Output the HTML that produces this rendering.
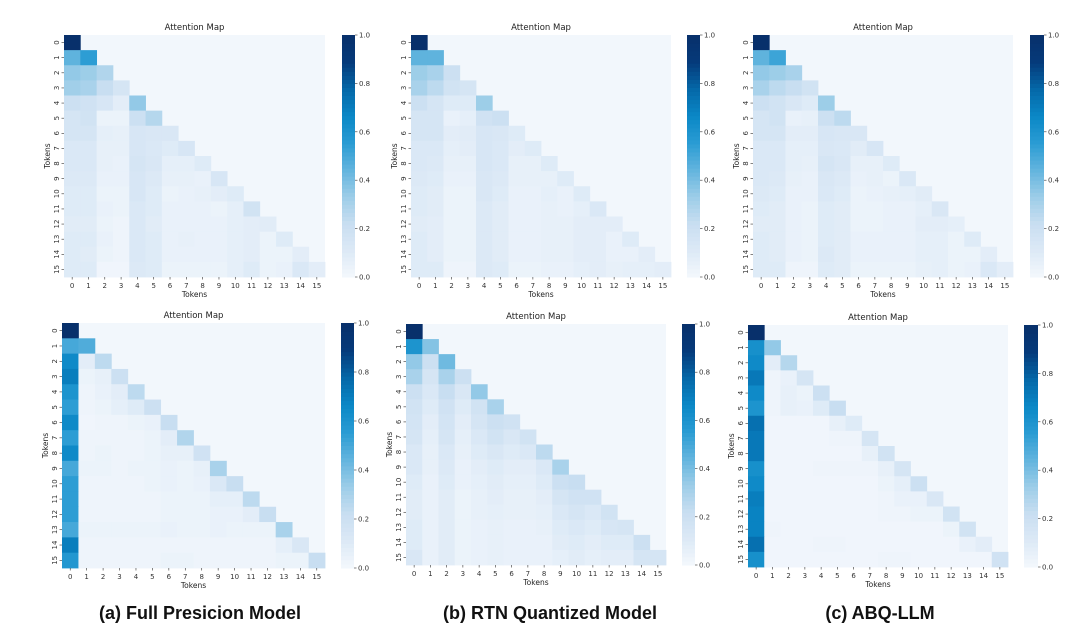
<!DOCTYPE html>
<html><head><meta charset="utf-8">
<style>
html,body{margin:0;padding:0;background:#fff;}
svg{display:block;font-family:"DejaVu Sans","Liberation Sans",sans-serif;}
</style></head>
<body>
<svg id="fig" width="1080" height="634" viewBox="0 0 1080 634"></svg>
<script>
// ---- data: lower-triangular attention matrices (rows 0..15) ----
const tokens = [0,1,2,3,4,5,6,7,8,9,10,11,12,13,14,15];
const cbarTicks = [0.0,0.2,0.4,0.6,0.8,1.0];
const cbarTickLabels = ["0.0","0.2","0.4","0.6","0.8","1.0"];
const panelTitles = ["(a) Full Presicion Model","(b) RTN Quantized Model","(c) ABQ-LLM"];

const mapFullTop = [
[1.0],
[.45,.55],
[.35,.33,.28],
[.32,.3,.22,.15],
[.2,.18,.14,.08,.35],
[.15,.17,.04,.04,.2,.27],
[.15,.15,.07,.06,.14,.13,.13],
[.12,.12,.06,.06,.14,.12,.1,.14],
[.12,.12,.06,.05,.15,.13,.07,.07,.1],
[.11,.11,.05,.05,.14,.11,.06,.06,.05,.14],
[.1,.1,.04,.04,.14,.1,.04,.05,.06,.08,.1],
[.1,.1,.05,.04,.12,.1,.05,.05,.05,.04,.07,.17],
[.09,.09,.04,.03,.12,.09,.05,.05,.05,.05,.07,.08,.09],
[.1,.1,.05,.03,.12,.1,.05,.06,.05,.05,.07,.08,.04,.1],
[.1,.09,.04,.03,.12,.1,.05,.05,.05,.05,.07,.08,.04,.04,.08],
[.1,.1,.02,.02,.11,.1,.04,.04,.04,.04,.07,.1,.04,.05,.12,.08]];
const mapRtnTop = [
[1.0],
[.45,.45],
[.33,.3,.2],
[.3,.25,.17,.15],
[.2,.15,.1,.1,.33],
[.15,.15,.05,.07,.18,.2],
[.15,.15,.08,.09,.14,.13,.1],
[.12,.12,.07,.08,.14,.12,.08,.1],
[.12,.11,.06,.06,.14,.12,.06,.06,.1],
[.11,.1,.05,.05,.13,.11,.06,.06,.06,.1],
[.1,.09,.04,.04,.13,.1,.05,.05,.07,.05,.1],
[.1,.09,.04,.04,.11,.09,.05,.05,.06,.05,.07,.12],
[.09,.08,.04,.04,.11,.09,.05,.05,.06,.06,.08,.08,.08],
[.1,.08,.04,.04,.11,.09,.05,.05,.06,.06,.08,.08,.05,.1],
[.1,.08,.04,.04,.11,.09,.05,.05,.06,.06,.08,.08,.05,.05,.08],
[.1,.1,.03,.03,.11,.1,.04,.04,.05,.05,.07,.08,.06,.07,.07,.08]];
const mapAbqTop = [
[1.0],
[.45,.52],
[.35,.33,.3],
[.3,.25,.22,.17],
[.2,.17,.13,.1,.33],
[.15,.17,.05,.06,.2,.25],
[.15,.15,.08,.08,.14,.13,.13],
[.12,.12,.07,.07,.13,.12,.09,.14],
[.12,.12,.07,.06,.15,.13,.06,.06,.1],
[.12,.11,.06,.05,.13,.11,.05,.06,.04,.12],
[.11,.1,.05,.05,.12,.1,.04,.05,.06,.07,.09],
[.1,.09,.05,.04,.1,.09,.04,.04,.05,.05,.07,.13],
[.09,.09,.05,.04,.1,.09,.04,.04,.05,.05,.08,.08,.07],
[.1,.09,.05,.04,.1,.09,.05,.05,.05,.05,.07,.07,.04,.1],
[.1,.09,.05,.04,.11,.09,.05,.05,.05,.05,.07,.07,.04,.04,.08],
[.1,.1,.03,.03,.1,.09,.04,.04,.04,.04,.06,.07,.04,.05,.12,.08]];
const mapFullBottom = [
[1.0],
[.5,.48],
[.65,.08,.25],
[.7,.04,.06,.2],
[.6,.03,.05,.08,.25],
[.55,.03,.04,.07,.1,.2],
[.65,.02,.03,.03,.04,.05,.22],
[.55,.03,.03,.03,.03,.04,.08,.28],
[.65,.03,.04,.03,.03,.04,.06,.06,.18],
[.5,.04,.04,.03,.04,.04,.05,.04,.06,.3],
[.55,.03,.03,.03,.03,.04,.05,.04,.05,.12,.22],
[.55,.03,.03,.03,.03,.03,.04,.04,.04,.07,.07,.25],
[.55,.03,.03,.03,.03,.03,.04,.04,.04,.05,.05,.08,.22],
[.5,.04,.04,.04,.04,.04,.05,.04,.04,.05,.04,.04,.04,.3],
[.7,.03,.03,.03,.03,.03,.03,.03,.03,.03,.03,.03,.03,.07,.13],
[.58,.03,.03,.03,.03,.03,.04,.04,.03,.03,.03,.03,.03,.04,.04,.22]];
const mapRtnBottom = [
[1.0],
[.6,.38],
[.35,.2,.42],
[.3,.15,.3,.2],
[.2,.12,.22,.13,.35],
[.17,.1,.18,.1,.17,.3],
[.16,.08,.16,.08,.15,.2,.18],
[.15,.07,.15,.07,.12,.17,.13,.17],
[.12,.06,.12,.06,.1,.13,.1,.12,.25],
[.12,.06,.11,.05,.08,.1,.08,.08,.12,.3],
[.1,.05,.1,.05,.07,.09,.07,.07,.1,.2,.22],
[.09,.05,.09,.04,.06,.08,.06,.06,.08,.15,.18,.18],
[.09,.05,.09,.04,.06,.07,.06,.06,.07,.12,.15,.12,.17],
[.1,.05,.09,.04,.05,.06,.05,.05,.06,.1,.12,.1,.14,.15],
[.1,.05,.09,.04,.05,.06,.05,.05,.05,.09,.1,.08,.1,.1,.2],
[.13,.05,.09,.04,.05,.06,.05,.05,.05,.07,.09,.07,.08,.08,.15,.15]];
const mapAbqBottom = [
[1.0],
[.62,.35],
[.65,.08,.27],
[.72,.03,.05,.15],
[.65,.03,.06,.04,.2],
[.6,.03,.06,.05,.1,.22],
[.75,.02,.02,.02,.02,.06,.1],
[.72,.02,.02,.02,.02,.03,.03,.15],
[.72,.02,.02,.02,.02,.02,.02,.06,.17],
[.62,.02,.02,.02,.03,.03,.03,.03,.06,.15],
[.65,.02,.02,.02,.02,.02,.02,.02,.04,.07,.2],
[.7,.02,.02,.02,.02,.02,.02,.02,.03,.05,.05,.13],
[.68,.02,.02,.02,.02,.02,.02,.02,.03,.03,.04,.04,.17],
[.68,.03,.02,.02,.02,.02,.02,.02,.02,.02,.02,.02,.04,.17],
[.75,.02,.02,.02,.03,.03,.02,.02,.02,.02,.02,.02,.02,.05,.08],
[.62,.02,.02,.02,.02,.02,.02,.02,.03,.03,.02,.02,.02,.02,.02,.18]];

// ---- layout (pixel geometry, not data) ----
const layout = [
 {key:"full-top",   m:mapFullTop,   x0:64, x1:325, y0:35, y1:277, cx:342, cw:13},
 {key:"rtn-top",    m:mapRtnTop,    x0:411,x1:671, y0:35, y1:277, cx:687, cw:13},
 {key:"abq-top",    m:mapAbqTop,    x0:753,x1:1013,y0:35, y1:277, cx:1030,cw:14},
 {key:"full-bottom",m:mapFullBottom,x0:62, x1:325, y0:323,y1:568, cx:341, cw:13},
 {key:"rtn-bottom", m:mapRtnBottom, x0:406,x1:666, y0:324,y1:565, cx:682, cw:13},
 {key:"abq-bottom", m:mapAbqBottom, x0:748,x1:1008,y0:325,y1:567, cx:1024,cw:14}
];
const stops = ["#f4f8fd","#dce9f6","#c8def1","#9ccde8","#62b4de","#2a9cd3","#0a87c6","#0568a8","#053a7a","#08306b"];
function hex(h){return [parseInt(h.substr(1,2),16),parseInt(h.substr(3,2),16),parseInt(h.substr(5,2),16)];}
function blues(v){
  v=Math.max(0,Math.min(1,v));
  const t=v*(stops.length-1), i=Math.min(stops.length-2,Math.floor(t)), f=t-i;
  const a=hex(stops[i]), b=hex(stops[i+1]);
  return "rgb("+a.map((c,k)=>Math.round(c+(b[k]-c)*f)).join(",")+")";
}
const NS="http://www.w3.org/2000/svg";
const svg=document.getElementById("fig");
function el(tag,attrs,parent){const e=document.createElementNS(NS,tag);for(const k in attrs)e.setAttribute(k,attrs[k]);(parent||svg).appendChild(e);return e;}

layout.forEach(p=>{
  const g=el("g",{});
  
  
  const n=tokens.length, cw=(p.x1-p.x0)/n, ch=(p.y1-p.y0)/n;
  const xs=i=>p.x0+i*cw, ys=j=>p.y0+j*ch;
  const bg=el("rect",{x:p.x0,y:p.y0,width:p.x1-p.x0,height:p.y1-p.y0,fill:blues(0.01)},g);
  
  
  p.m.forEach((row,r)=>row.forEach((v,c)=>{
    const cell=el("rect",{x:xs(c).toFixed(2),y:ys(r).toFixed(2),width:(cw+0.4).toFixed(2),height:(ch+0.4).toFixed(2),fill:blues(v)},g);
    
    
  }));
  const t=el("text",{x:(p.x0+p.x1)/2,y:p.y0-5,"font-size":"8.5","text-anchor":"middle",fill:"#222"},g);
  t.textContent="Attention Map";
  
  
  tokens.forEach((tk,i)=>{
    const cx=xs(i)+cw/2, cy=ys(i)+ch/2;
    el("line",{x1:cx,x2:cx,y1:p.y1,y2:p.y1+2.5,stroke:"#333","stroke-width":0.6},g);
    const xl=el("text",{x:cx,y:p.y1+11,"font-size":"7","text-anchor":"middle",fill:"#333"},g);
    xl.textContent=tk;
    
    
    el("line",{x1:p.x0-2.5,x2:p.x0,y1:cy,y2:cy,stroke:"#333","stroke-width":0.6},g);
    const yl=el("text",{x:0,y:0,"font-size":"7","text-anchor":"middle",fill:"#333",transform:"translate("+(p.x0-5)+","+cy+") rotate(-90)"},g);
    yl.textContent=tk;
    
    
  });
  const xt=el("text",{x:(p.x0+p.x1)/2,y:p.y1+20,"font-size":"7.5","text-anchor":"middle",fill:"#222"},g);
  xt.textContent="Tokens";
  
  
  const yt=el("text",{x:0,y:0,"font-size":"7.5","text-anchor":"middle",fill:"#222",transform:"translate("+(p.x0-14)+","+((p.y0+p.y1)/2)+") rotate(-90)"},g);
  yt.textContent="Tokens";
  
  
  // colorbar
  const cb=el("g",{},g);
  
  
  const H=p.y1-p.y0, steps=60;
  for(let s=0;s<steps;s++){
    const v0=s/steps;
    el("rect",{x:p.cx,y:(p.y1-(s+1)*H/steps).toFixed(2),width:p.cw,height:(H/steps+0.5).toFixed(2),fill:blues(v0+0.5/steps)},cb);
  }
  cbarTicks.forEach((tv,i)=>{
    const y=p.y1-tv*H;
    el("line",{x1:p.cx+p.cw,x2:p.cx+p.cw+2.5,y1:y,y2:y,stroke:"#333","stroke-width":0.6},cb);
    const tl=el("text",{x:p.cx+p.cw+4,y:y+2.5,"font-size":"7",fill:"#333"},cb);
    tl.textContent=cbarTickLabels[i];
    
    
  });
});
const capX=[200,550,880];
panelTitles.forEach((s,i)=>{
  const c=el("text",{x:capX[i],y:619,"font-size":"18","font-weight":"bold","text-anchor":"middle",fill:"#111","font-family":"Liberation Sans, sans-serif"});
  c.textContent=s;
  
  
});
</script>
</body></html>
